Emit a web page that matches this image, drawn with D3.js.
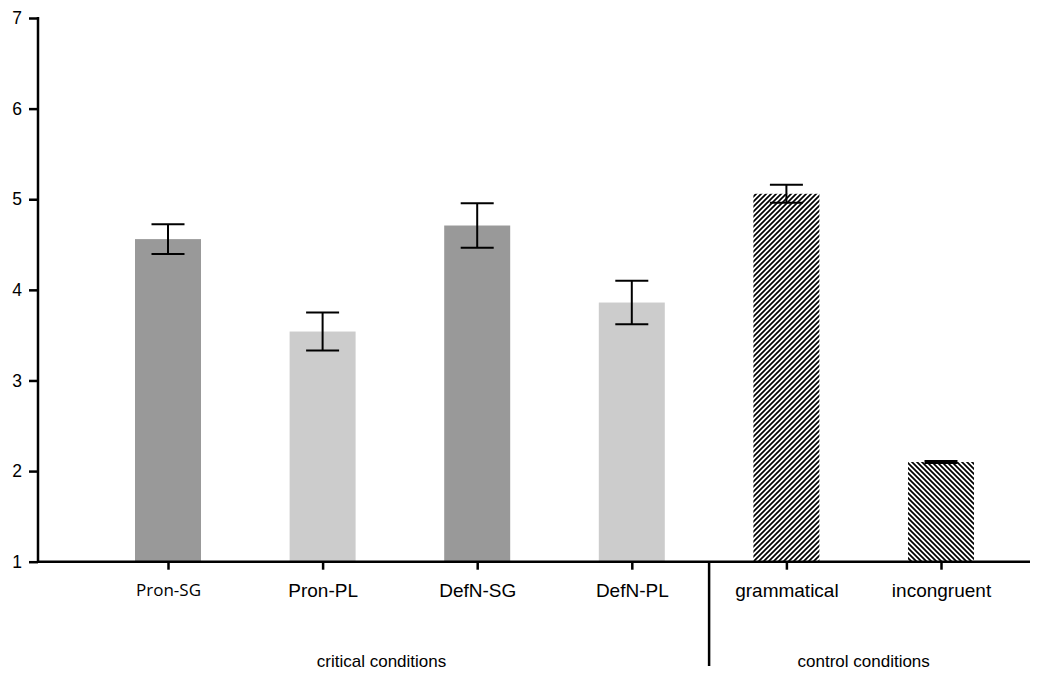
<!DOCTYPE html>
<html>
<head>
<meta charset="utf-8">
<script src="https://cdn.jsdelivr.net/npm/d3@7"></script>
<style>
body { margin: 0; background: #fff; }
text { font-family: "Liberation Sans", Arial, sans-serif; fill: #000; }
</style>
</head>
<body>
<script>
// values
const categories = ["Pron-SG", "Pron-PL", "DefN-SG", "DefN-PL", "grammatical", "incongruent"];
const means = [4.56, 3.54, 4.71, 3.86, 5.06, 2.10];
const errs = [0.165, 0.21, 0.245, 0.24, 0.10, 0.01];
const groupOf = [0, 0, 0, 0, 1, 1];
const groupLabels = ["critical conditions", "control conditions"];
const yTicks = [1, 2, 3, 4, 5, 6, 7];

const W = 1037, H = 673;
const axisX = 38, axisY = 561.7, axisRight = 1030;
const barW = 66;

const svg = d3.select("body").append("svg")
	.attr("width", W).attr("height", H);

const defs = svg.append("defs");
function hatch(id, d) {
	defs.append("pattern")
		.attr("id", id)
		.attr("patternUnits", "userSpaceOnUse")
		.attr("width", 5).attr("height", 5)
		.append("path")
		.attr("d", d)
		.attr("stroke", "#000")
		.attr("stroke-width", 1.7);
}
hatch("fwd", "M-1,6 L6,-1 M-1,1 L1,-1 M4,6 L6,4");
hatch("back", "M-1,-1 L6,6 M-1,4 L1,6 M4,-1 L6,1");

const y = d3.scaleLinear().domain([1, 7]).range([axisY, 18]);
const x = d3.scalePoint().domain(categories).range([168, 941]);

function fillOf(i) {
	if (i === 4) return "url(#fwd)";
	if (i === 5) return "url(#back)";
	return i % 2 === 0 ? "#999999" : "#cccccc";
}

// bars
svg.append("g").selectAll("rect")
	.data(categories)
	.join("rect")
	.attr("x", d => x(d) - barW / 2)
	.attr("width", barW)
	.attr("y", (d, i) => y(means[i]))
	.attr("height", (d, i) => axisY - y(means[i]))
	.attr("fill", (d, i) => fillOf(i));

// error bars
const eb = svg.append("g").attr("stroke", "#000").attr("stroke-width", 2);
categories.forEach(function(c, i) {
	const cx = x(c), hi = y(means[i] + errs[i]), lo = y(means[i] - errs[i]);
	eb.append("line").attr("x1", cx).attr("x2", cx).attr("y1", hi).attr("y2", lo);
	eb.append("line").attr("x1", cx - 16.5).attr("x2", cx + 16.5).attr("y1", hi).attr("y2", hi);
	eb.append("line").attr("x1", cx - 16.5).attr("x2", cx + 16.5).attr("y1", lo).attr("y2", lo);
});

// y axis
const yAxis = svg.append("g")
	.attr("transform", "translate(" + axisX + ",0)")
	.call(d3.axisLeft(y).tickValues(yTicks).tickFormat(d3.format("d")).tickSize(9).tickPadding(7));
yAxis.select(".domain").remove();
yAxis.selectAll(".tick line").attr("stroke-width", 2.5);
yAxis.selectAll("text").style("font-size", "17.5px").attr("font-family", null);
svg.append("line")
	.attr("x1", axisX).attr("x2", axisX)
	.attr("y1", y(7) - 1).attr("y2", axisY + 1)
	.attr("stroke", "#000").attr("stroke-width", 2.5);

// x axis
svg.append("line")
	.attr("x1", axisX).attr("x2", axisRight)
	.attr("y1", axisY).attr("y2", axisY)
	.attr("stroke", "#000").attr("stroke-width", 2.5);
const xAxis = svg.append("g")
	.attr("transform", "translate(0," + axisY + ")")
	.call(d3.axisBottom(x).tickSize(8).tickPadding(14));
xAxis.select(".domain").remove();
xAxis.selectAll(".tick line").attr("stroke-width", 2.5);
xAxis.selectAll("text")
	.style("font-size", d => d === "Pron-SG" ? "17px" : "19px")
	.style("font-family", d => d === "Pron-SG" ? "'Open Sans', sans-serif" : null)
	.attr("font-family", null);

// separator between groups
const sepX = (x(categories[3]) + x(categories[4])) / 2;
svg.append("line")
	.attr("x1", sepX).attr("x2", sepX)
	.attr("y1", axisY).attr("y2", 666)
	.attr("stroke", "#000").attr("stroke-width", 2.5);

// group labels
const groupCenters = [
	(axisX + sepX) / 2 + 8,
	(x(categories[4]) + x(categories[5])) / 2
];
svg.append("g").selectAll("text")
	.data(groupLabels)
	.join("text")
	.attr("x", (d, i) => groupCenters[i])
	.attr("y", 667)
	.attr("text-anchor", "middle")
	.style("font-size", "17px")
	.text(d => d);
</script>
</body>
</html>
